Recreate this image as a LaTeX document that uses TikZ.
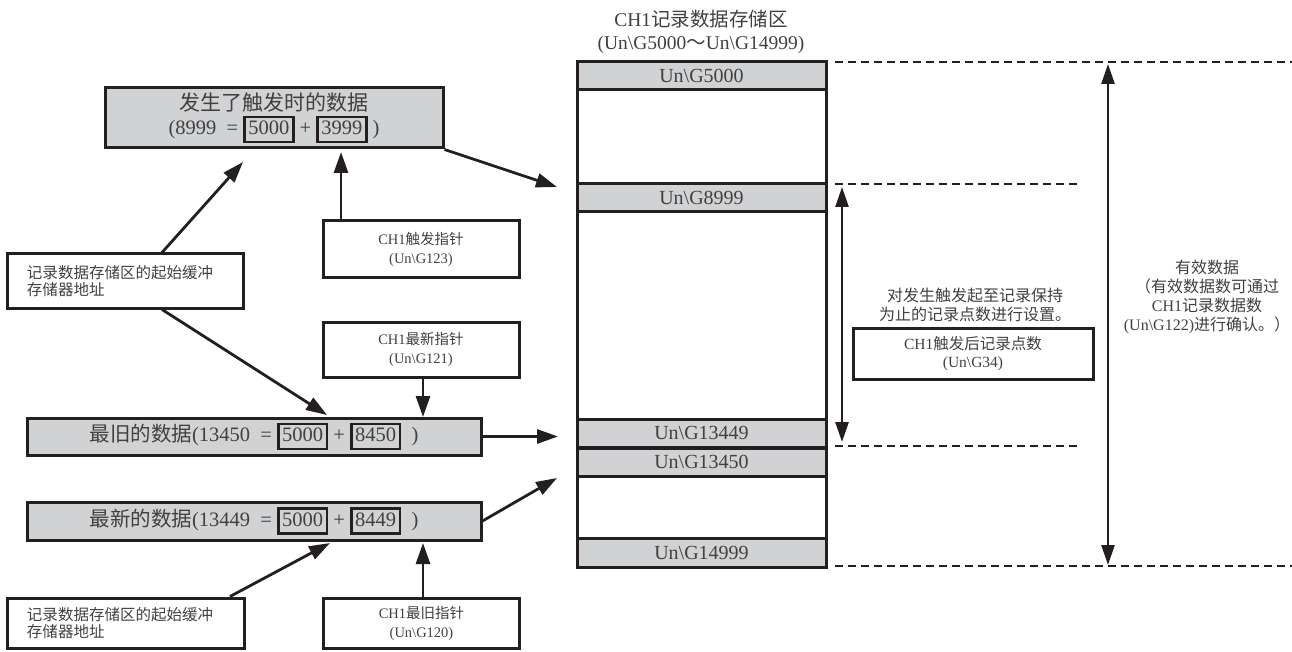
\documentclass[tikz,border=0pt]{standalone}
\usepackage{fontspec}
\setmainfont{Liberation Serif}
\newfontfamily\cjk{Noto Sans CJK SC}
\usetikzlibrary{arrows.meta,calc}
\definecolor{boxgray}{RGB}{209,210,212}
\definecolor{ink}{RGB}{35,31,32}
\definecolor{txt}{RGB}{64,64,64}
\newcommand\bs{\textbackslash}
\newcommand\numbox[1]{{\setlength{\fboxsep}{1pt}\setlength{\fboxrule}{2.6pt}\color{ink}\fbox{\color{txt}\rule[-0.25em]{0pt}{1em}\kern1.5pt#1\kern1.5pt}}}
\begin{document}
\begin{tikzpicture}[x=1pt,y=-1pt,
  every node/.append style={text=txt},
  frame/.style={draw=ink, line width=3pt, inner sep=0pt},
  grayframe/.style={frame, fill=boxgray},
  row/.style={draw=ink, line width=3pt, fill=boxgray, minimum width=249pt, inner sep=0pt, font=\fontsize{20}{24}\selectfont},
  arr/.style={draw=ink, line width=2.8pt, -{Triangle[length=21pt,width=14pt]}},
  darr/.style={draw=ink, line width=2.6pt, {Triangle[length=20pt,width=13pt]}-{Triangle[length=20pt,width=13pt]}},
  guide/.style={draw=ink, line width=2.6pt, dash pattern=on 8pt off 5pt},
  bigtext/.style={font=\fontsize{20.5}{24}\selectfont},
  ptrtext/.style={font=\fontsize{14.5}{19}\selectfont},
  smalltext/.style={font=\fontsize{15.5}{18}\selectfont},
]
\useasboundingbox (0,0) rectangle (1292,652);

% title
\node[align=center, font=\fontsize{19.5}{23}\selectfont] (title) at (701,31.5)
  {CH1{\cjk 记录数据存储区}\\(Un\bs G5000{\cjk ～}Un\bs G14999)};

% memory area
\node[frame, minimum width=249pt, minimum height=505pt] (mem) at (701.5,314.5) {};
\node[row, minimum height=28pt] (r5000) at (701.5,76) {Un\bs G5000};
\node[row, minimum height=28pt] (r8999) at (701.5,198) {Un\bs G8999};
\node[row, minimum height=28pt] (r13449) at (701.5,433) {Un\bs G13449};
\node[row, minimum height=28pt] (r13450) at (701.5,462) {Un\bs G13450};
\node[row, minimum height=29pt] (r14999) at (701.5,552.5) {Un\bs G14999};

% left boxes
\node[grayframe, minimum width=338pt, minimum height=60pt, align=center, bigtext] (boxA) at (274,118)
  {{\cjk\fontsize{21}{24}\selectfont 发生了触发时的数据}\\(8999\ \ =\ \numbox{5000}\ +\ \numbox{3999}\ )};
\node[frame, minimum width=196pt, minimum height=56pt, align=center, ptrtext] (trig) at (421,249)
  {CH1{\cjk 触发指针}\\(Un\bs G123)};
\node[frame, minimum width=236pt, minimum height=54pt, align=left, text width=196pt, font=\cjk\fontsize{15.5}{17}\selectfont] (start1) at (125,281)
  {记录数据存储区的起始缓冲\\存储器地址};
\node[frame, minimum width=196pt, minimum height=55pt, align=center, ptrtext] (newest) at (421,349.5)
  {CH1{\cjk 最新指针}\\(Un\bs G121)};
\node[grayframe, minimum width=454pt, minimum height=37pt, bigtext] (boxB) at (254,436.5)
  {{\cjk 最旧的数据}(13450\ \ =\ \numbox{5000}\ +\ \numbox{8450}\ \ )};
\node[grayframe, minimum width=454pt, minimum height=38pt, bigtext] (boxC) at (254,521)
  {{\cjk 最新的数据}(13449\ \ =\ \numbox{5000}\ +\ \numbox{8449}\ \ )};
\node[frame, minimum width=237pt, minimum height=50pt, align=left, text width=197pt, font=\cjk\fontsize{15.5}{17}\selectfont] (start2) at (125.5,623)
  {记录数据存储区的起始缓冲\\存储器地址};
\node[frame, minimum width=196pt, minimum height=50pt, align=center, ptrtext] (oldest) at (421.5,623)
  {CH1{\cjk 最旧指针}\\(Un\bs G120)};

% right side texts
\node[align=center, font=\cjk\fontsize{16}{19}\selectfont] (note) at (975,304.5)
  {对发生触发起至记录保持\\为止的记录点数进行设置。};
\node[frame, minimum width=240pt, minimum height=51pt, align=center, smalltext] (g34) at (973,353.5)
  {CH1{\cjk 触发后记录点数}\\(Un\bs G34)};
\node[align=center, font=\fontsize{16}{19}\selectfont] (valid) at (1207,297)
  {{\cjk 有效数据}\\{\cjk （有效数据数可通过}\\CH1{\cjk 记录数据数}\\(Un\bs G122){\cjk 进行确认。）}};

% arrow end points
\coordinate (tA) at (557,187);
\coordinate (tTrig) at (341,152);
\coordinate (sS1) at (162,0);
\coordinate (tS1) at (243,162);
\coordinate (tS1b) at (327,415);
\coordinate (tNew) at (423,417);
\coordinate (tB) at (558,0);
\coordinate (tC) at (557,478);
\coordinate (sS2) at (230,0);
\coordinate (tS2) at (330,543);
\coordinate (tOld) at (423,543);

\draw[arr] (boxA.south east) -- (tA);
\draw[arr] (trig.north -| tTrig) -- (tTrig);
\draw[arr] (start1.north -| sS1) -- (tS1);
\draw[arr] (start1.south -| sS1) -- (tS1b);
\draw[arr] (newest.south -| tNew) -- (tNew);
\draw[arr] (boxB.east) -- (boxB.east -| tB);
\draw[arr] (boxC.east) -- (tC);
\draw[arr] (start2.north -| sS2) -- (tS2);
\draw[arr] (oldest.north -| tOld) -- (tOld);

% range arrows
\coordinate (vt) at (1108,64);
\coordinate (vb) at (1108,565);
\draw[darr] (vt) -- (vb);
\coordinate (st) at (842,187);
\coordinate (sb) at (842,442);
\draw[darr] (st) -- (sb);

% dashed guides
\coordinate (d1a) at (835,62);  \coordinate (d1b) at (1292,62);
\coordinate (d2a) at (835,184); \coordinate (d2b) at (1077,184);
\coordinate (d3a) at (835,446); \coordinate (d3b) at (1077,446);
\coordinate (d4a) at (835,566); \coordinate (d4b) at (1292,566);
\draw[guide] (d1a) -- (d1b);
\draw[guide] (d2a) -- (d2b);
\draw[guide] (d3a) -- (d3b);
\draw[guide] (d4a) -- (d4b);
\end{tikzpicture}
\end{document}
